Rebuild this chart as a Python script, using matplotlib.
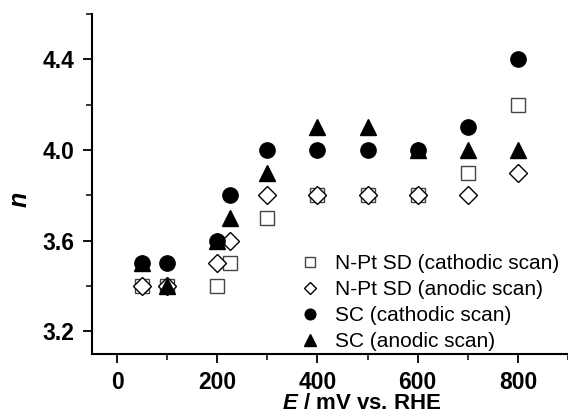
""" Number of transferred electrons n vs. electrode potential for N-Pt SD and SC. """

import matplotlib
matplotlib.use('Agg')
import matplotlib.pyplot as plt
from matplotlib.ticker import MultipleLocator

plt.rcParams['font.family'] = ['Liberation Sans', 'DejaVu Sans']
plt.rcParams['mathtext.fontset'] = 'custom'
plt.rcParams['mathtext.bfit'] = 'Liberation Sans:italic:bold'
plt.rcParams['mathtext.rm'] = 'Liberation Sans:bold'

# potential (mV vs. RHE)
E = [50, 100, 200, 225, 300, 400, 500, 600, 700, 800]

# number of electrons
npt_cath = [3.4, 3.4, 3.4, 3.5, 3.7, 3.8, 3.8, 3.8, 3.9, 4.2]
npt_anod = [3.4, 3.4, 3.5, 3.6, 3.8, 3.8, 3.8, 3.8, 3.8, 3.9]
sc_cath = [3.5, 3.5, 3.6, 3.8, 4.0, 4.0, 4.0, 4.0, 4.1, 4.4]
sc_anod = [3.5, 3.4, 3.6, 3.7, 3.9, 4.1, 4.1, 4.0, 4.0, 4.0]

labels = ['N-Pt SD (cathodic scan)', 'N-Pt SD (anodic scan)',
          'SC (cathodic scan)', 'SC (anodic scan)']

fig = plt.figure(figsize=(5.68, 4.17), dpi=100)
ax = fig.add_axes([0.162, 0.151, 0.838, 0.815])

ax.plot(E, npt_cath, ls='none', marker='s', ms=9.5, mfc='white',
        mec='#444444', mew=1.0, label=labels[0])
ax.plot(E, npt_anod, ls='none', marker='D', ms=9, mfc='white',
        mec='black', mew=1.0, label=labels[1])
ax.plot(E, sc_cath, ls='none', marker='o', ms=11, c='black',
        label=labels[2])
ax.plot(E, sc_anod, ls='none', marker='^', ms=12, c='black',
        label=labels[3])

ax.set_xlim(-50, 900)
ax.set_ylim(3.1, 4.6)
ax.xaxis.set_major_locator(MultipleLocator(200))
ax.xaxis.set_minor_locator(MultipleLocator(100))
ax.yaxis.set_major_locator(MultipleLocator(0.4))
ax.yaxis.set_minor_locator(MultipleLocator(0.2))
ax.set_yticks([3.2, 3.6, 4.0, 4.4])
ax.set_yticklabels(['3.2', '3.6', '4.0', '4.4'])

for s in ['top', 'right']:
    ax.spines[s].set_visible(False)
for s in ['left', 'bottom']:
    ax.spines[s].set_linewidth(1.5)
ax.tick_params(which='major', direction='out', length=6.5, width=1.3,
               labelsize=16.5, pad=6)
ax.tick_params(which='minor', direction='out', length=4, width=1.1)
for lab in ax.get_xticklabels() + ax.get_yticklabels():
    lab.set_fontweight('bold')

fig.text(0.637, 0.008, r'$\bfit{E}$ / mV vs. RHE', ha='center', va='bottom',
         fontsize=16, fontweight='bold')
fig.text(0.035, 0.52, r'$\bfit{n}$', rotation=90, ha='center', va='center',
         fontsize=18)

ax.legend(loc='lower right', bbox_to_anchor=(1.0, -0.015), frameon=False,
          fontsize=15, markerscale=0.7, handletextpad=0.6, labelspacing=0.33,
          handlelength=1.2, borderaxespad=0.0)

plt.savefig('out.png', dpi=100)
